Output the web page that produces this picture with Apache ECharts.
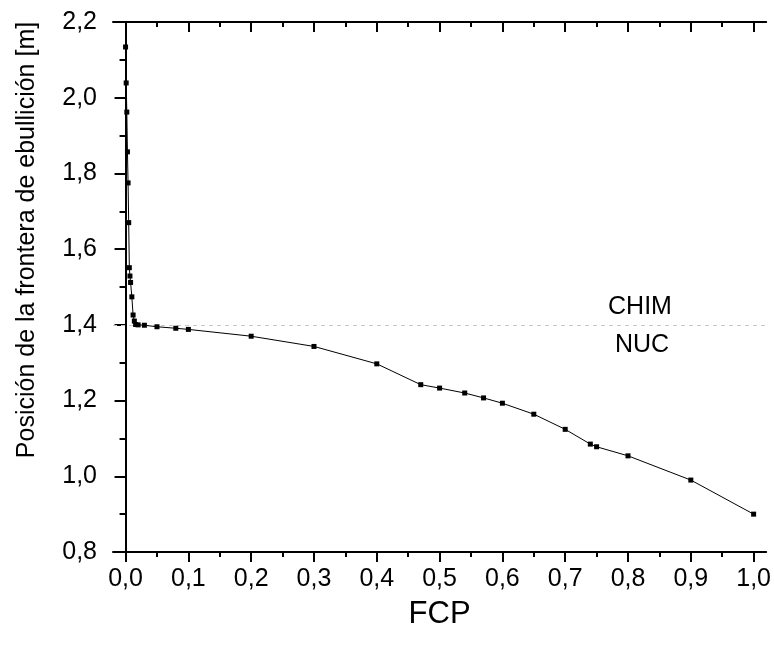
<!DOCTYPE html>
<html>
<head>
<meta charset="utf-8">
<script src="https://cdn.jsdelivr.net/npm/echarts@6/dist/echarts.min.js"></script>
<style>html,body{margin:0;padding:0;background:#fff;}#c{width:774px;height:647px;}</style>
</head>
<body>
<div id="c"></div>
<script>
var fcp = [0.000, 0.001, 0.002, 0.003, 0.004, 0.005, 0.006, 0.007, 0.008, 0.010, 0.012, 0.014, 0.016, 0.020, 0.030, 0.050, 0.080, 0.100, 0.200, 0.300, 0.400, 0.470, 0.500, 0.540, 0.570, 0.600, 0.650, 0.700, 0.740, 0.750, 0.800, 0.900, 1.000];
var posicion = [2.134, 2.039, 1.962, 1.857, 1.775, 1.670, 1.551, 1.529, 1.512, 1.474, 1.426, 1.410, 1.401, 1.400, 1.399, 1.395, 1.391, 1.388, 1.370, 1.343, 1.297, 1.242, 1.233, 1.220, 1.207, 1.193, 1.164, 1.124, 1.085, 1.078, 1.054, 0.990, 0.900];
var xMajorTicks = [0.0, 0.1, 0.2, 0.3, 0.4, 0.5, 0.6, 0.7, 0.8, 0.9, 1.0];
var xMinorTicks = [0.05, 0.15, 0.25, 0.35, 0.45, 0.55, 0.65, 0.75, 0.85, 0.95];
var boundary = 1.4;
var zoneLabels = ['CHIM', 'NUC'];
var yTitle = 'Posición de la frontera de ebullición [m]';

var FONT = '"Liberation Sans", Arial, sans-serif';
function fmt(v) { return (Math.round(v * 10) / 10).toFixed(1).replace('.', ','); }

var chart = echarts.init(document.getElementById('c'), null, {renderer: 'canvas'});
var xBase = {type: 'value', min: -0.02, max: 1.02, gridIndex: 0, splitLine: {show: false}};
var lineStyle = {color: '#000', width: 2};

chart.setOption({
  animation: false,
  backgroundColor: '#fff',
  grid: {left: 113, right: 7, top: 22, bottom: 95, containLabel: false},
  xAxis: [
    Object.assign({}, xBase, {
      position: 'bottom',
      name: 'FCP', nameLocation: 'middle', nameGap: 47,
      nameTextStyle: {fontFamily: FONT, fontSize: 31, color: '#000'},
      axisLine: {show: true, lineStyle: lineStyle},
      axisTick: {show: true, inside: false, length: 10, lineStyle: lineStyle, customValues: xMajorTicks},
      axisLabel: {show: true, margin: 15, fontFamily: FONT, fontSize: 25, color: '#000', customValues: xMajorTicks, formatter: fmt}
    }),
    Object.assign({}, xBase, {
      position: 'bottom',
      axisLine: {show: false},
      axisTick: {show: true, inside: false, length: 5, lineStyle: lineStyle, customValues: xMinorTicks},
      axisLabel: {show: false}
    }),
    Object.assign({}, xBase, {
      position: 'top',
      axisLine: {show: true, lineStyle: lineStyle},
      axisTick: {show: true, inside: true, length: 10, lineStyle: lineStyle, customValues: xMajorTicks},
      axisLabel: {show: false}
    }),
    Object.assign({}, xBase, {
      position: 'top',
      axisLine: {show: false},
      axisTick: {show: true, inside: true, length: 5, lineStyle: lineStyle, customValues: xMinorTicks},
      axisLabel: {show: false}
    })
  ],
  yAxis: [
    {
      type: 'value', min: 0.8, max: 2.2, interval: 0.2, position: 'left',
      splitLine: {show: false},
      axisLine: {show: true, lineStyle: lineStyle},
      axisTick: {show: true, inside: false, length: 11, lineStyle: lineStyle},
      minorTick: {show: true, splitNumber: 2, length: 6, lineStyle: {color: '#000', width: 2}},
      axisLabel: {margin: 16, fontFamily: FONT, fontSize: 25, color: '#000', formatter: fmt}
    },
    {
      type: 'value', min: 0.8, max: 2.2, interval: 0.2, position: 'right',
      splitLine: {show: false},
      axisLine: {show: true, lineStyle: lineStyle},
      axisTick: {show: true, inside: true, length: 10, lineStyle: lineStyle},
      minorTick: {show: true, splitNumber: 2, length: 5, lineStyle: {color: '#000', width: 2}},
      axisLabel: {show: false}
    }
  ],
  series: [{
    type: 'line',
    xAxisIndex: 0, yAxisIndex: 0,
    data: fcp.map(function (x, i) { return [x, posicion[i]]; }),
    symbol: 'rect', symbolSize: 5,
    itemStyle: {color: '#000'},
    lineStyle: {color: '#000', width: 1},
    z: 5,
    markLine: {
      silent: true, symbol: 'none', animation: false,
      label: {show: false},
      lineStyle: {color: '#c8c8c8', type: [4, 4], width: 1},
      data: [{yAxis: boundary}]
    }
  }],
  graphic: [
    {type: 'text', x: 27, y: 240, rotation: Math.PI / 2,
     style: {text: yTitle, font: '25px ' + FONT, fill: '#000', align: 'center', verticalAlign: 'middle'}},
    {type: 'text', x: 640, y: 307, style: {text: zoneLabels[0], font: '25px ' + FONT, fill: '#000', align: 'center', verticalAlign: 'middle'}},
    {type: 'text', x: 642, y: 345, style: {text: zoneLabels[1], font: '25px ' + FONT, fill: '#000', align: 'center', verticalAlign: 'middle'}}
  ]
});
</script>
</body>
</html>
